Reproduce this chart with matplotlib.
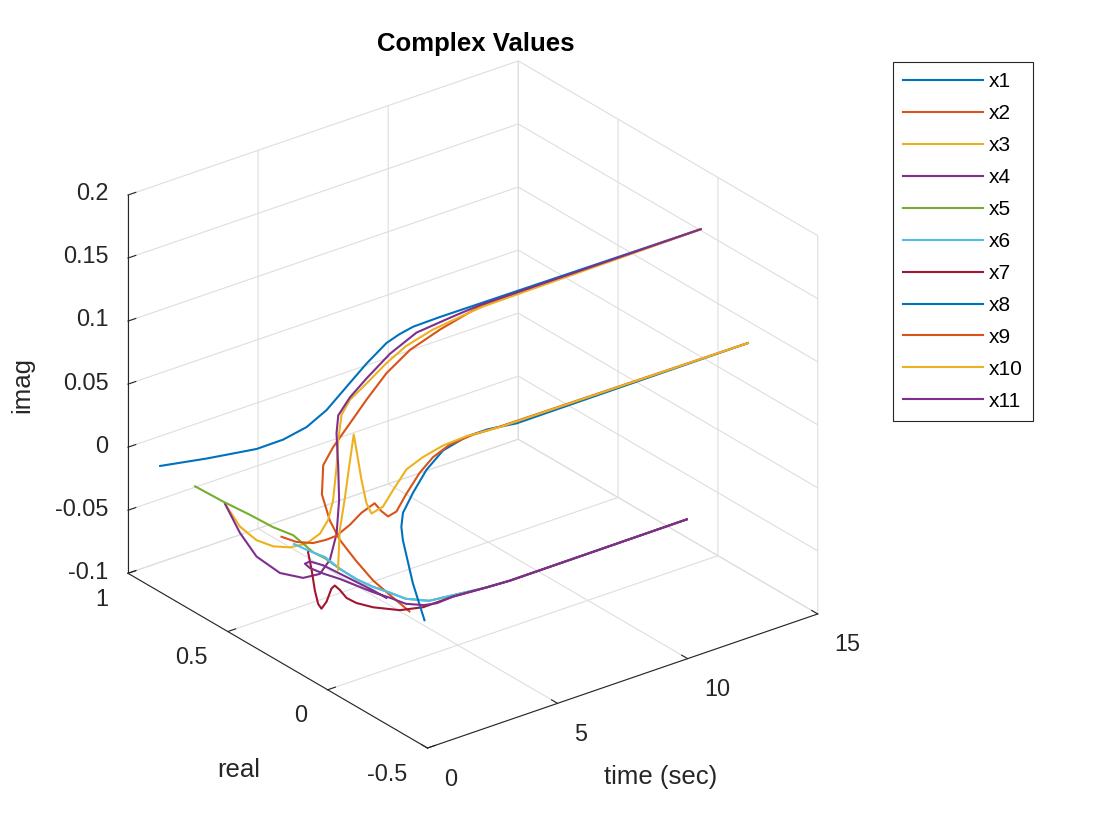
import matplotlib
matplotlib.use("Agg")
import matplotlib.pyplot as plt

plt.rcParams['font.family'] = ['Liberation Sans', 'DejaVu Sans']
plt.rcParams['grid.color'] = '#dedede'
plt.rcParams['grid.linewidth'] = 0.8

# time (sec), real part, imag part for every trace
t_x1 = [0, 0.5, 1.0, 1.3, 1.6, 1.9, 2.2, 2.6, 3.1, 3.5, 4.0, 5.0, 15]
re_x1 = [0.839, 0.670, 0.486, 0.392, 0.314, 0.253, 0.192, 0.144, 0.109, 0.098, 0.093, 0.089, 0.086]
im_x1 = [0.000, 0.018, 0.039, 0.053, 0.068, 0.085, 0.107, 0.127, 0.143, 0.148, 0.151, 0.152, 0.151]

t_x2 = [0, 0.15, 0.3, 0.45, 0.6, 0.75, 0.9, 1.05, 1.2, 1.6, 2.2, 3.0, 3.9, 5.0, 6.5, 15]
re_x2 = [-0.410, -0.296, -0.188, -0.082, 0.017, 0.087, 0.146, 0.159, 0.129, 0.097, 0.092, 0.096, 0.096, 0.089, 0.086, 0.086]
im_x2 = [0.000, 0.001, 0.002, 0.007, 0.013, 0.021, 0.035, 0.056, 0.072, 0.091, 0.106, 0.121, 0.133, 0.142, 0.150, 0.151]

t_x3 = [0, 0.15, 0.3, 0.45, 0.6, 0.75, 0.9, 1.05, 1.2, 1.4, 1.55, 1.7, 1.9, 2.4, 3.0, 3.7, 4.7, 5.8, 6.6, 15]
re_x3 = [0.514, 0.459, 0.395, 0.331, 0.267, 0.203, 0.156, 0.134, 0.129, 0.138, 0.149, 0.152, 0.136, 0.118,
         0.096, 0.090, 0.088, 0.087, 0.086, 0.086]
im_x3 = [0.000, -0.014, -0.020, -0.020, -0.016, -0.008, 0.003, 0.015, 0.030, 0.054, 0.073, 0.092, 0.104, 0.115,
         0.129, 0.138, 0.144, 0.147, 0.149, 0.151]

t_x4 = [0, 0.15, 0.3, 0.5, 0.7, 0.85, 1.0, 1.15, 1.3, 1.45, 1.6, 1.75, 2.0, 2.4, 3.1, 4.1, 5.4, 6.5, 15]
re_x4 = [0.514, 0.459, 0.395, 0.304, 0.214, 0.150, 0.119, 0.105, 0.112, 0.136, 0.164, 0.175, 0.149, 0.118,
         0.092, 0.089, 0.087, 0.086, 0.086]
im_x4 = [0.000, -0.019, -0.033, -0.039, -0.036, -0.028, -0.015, 0.006, 0.031, 0.054, 0.077, 0.089, 0.104, 0.119,
         0.136, 0.146, 0.149, 0.151, 0.151]

t_x5 = [0, 0.1, 0.2, 0.3, 0.4, 0.55, 0.75, 1.1, 1.7, 2.3, 2.9, 3.6, 4.2, 5.1, 6.0, 7.3, 8.2, 15]
re_x5 = [0.664, 0.535, 0.415, 0.312, 0.225, 0.194, 0.170, 0.157, 0.156, 0.156, 0.156, 0.156, 0.156, 0.156,
         0.156, 0.156, 0.156, 0.156]
im_x5 = [0.000, -0.001, -0.001, -0.002, -0.001, -0.006, -0.012, -0.018, -0.031, -0.043, -0.053, -0.063, -0.072,
         -0.080, -0.082, -0.085, -0.086, -0.0856]

t_x6 = [0, 0.5, 1.1, 1.7, 2.3, 2.9, 3.6, 4.2, 5.1, 6.0, 7.3, 8.2, 15]
re_x6 = [0.169, 0.160, 0.157, 0.156, 0.156, 0.156, 0.156, 0.156, 0.156, 0.156, 0.156, 0.156, 0.156]
im_x6 = [0.000, -0.008, -0.017, -0.031, -0.043, -0.053, -0.063, -0.072, -0.080, -0.082, -0.085, -0.086, -0.0856]

t_x7 = [0, 0.15, 0.3, 0.45, 0.6, 0.8, 1.0, 1.15, 1.35, 1.65, 2.1, 2.85, 3.9, 4.85, 6.0, 7.3, 8.2, 15]
re_x7 = [0.098, 0.100, 0.103, 0.106, 0.109, 0.110, 0.111, 0.114, 0.115, 0.120, 0.129, 0.143, 0.146, 0.153,
         0.155, 0.156, 0.156, 0.156]
im_x7 = [0.000, -0.015, -0.033, -0.045, -0.050, -0.046, -0.037, -0.036, -0.041, -0.050, -0.058, -0.068, -0.078,
         -0.083, -0.083, -0.085, -0.086, -0.0856]

t_x8 = [0, 0.2, 0.45, 0.6, 0.9, 1.5, 2.2, 3.2, 4.2, 5.0, 6.1, 15]
re_x8 = [-0.485, -0.401, -0.318, -0.291, -0.260, -0.232, -0.208, -0.161, -0.150, -0.150, -0.151, -0.150]
im_x8 = [0.000, 0.020, 0.045, 0.052, 0.058, 0.067, 0.078, 0.082, 0.085, 0.085, 0.082, 0.0825]

t_x9 = [0, 0.2, 0.4, 0.6, 0.75, 1.0, 1.25, 1.5, 1.65, 1.8, 2.0, 2.3, 2.7, 3.1, 3.6, 4.4, 5.3, 15]
re_x9 = [0.231, 0.182, 0.125, 0.084, 0.053, 0.019, -0.006, -0.040, -0.054, -0.068, -0.084, -0.095, -0.109,
         -0.124, -0.142, -0.152, -0.151, -0.150]
im_x9 = [0.000, -0.001, 0.002, 0.007, 0.012, 0.022, 0.032, 0.041, 0.035, 0.031, 0.035, 0.048, 0.063, 0.074,
         0.082, 0.085, 0.084, 0.0825]

t_x10 = [0, 0.15, 0.3, 0.45, 0.55, 0.65, 0.8, 0.95, 1.1, 1.35, 1.6, 2.0, 2.6, 3.3, 4.2, 5.5, 15]
re_x10 = [-0.052, -0.041, -0.046, -0.052, -0.059, -0.062, -0.065, -0.070, -0.076, -0.101, -0.119, -0.134,
          -0.139, -0.148, -0.148, -0.147, -0.150]
im_x10 = [0.000, 0.029, 0.053, 0.082, 0.104, 0.089, 0.067, 0.048, 0.039, 0.045, 0.058, 0.073, 0.079, 0.084,
          0.085, 0.083, 0.0825]

t_x11 = [0, 0.1, 0.2, 0.3, 0.4, 0.5, 0.6, 0.75, 1.0, 1.65, 2.3, 2.95, 3.6, 4.2, 4.9, 5.4, 6.0, 7.3, 8.2, 15]
re_x11 = [-0.294, -0.214, -0.118, -0.021, 0.075, 0.154, 0.192, 0.187, 0.153, 0.154, 0.155, 0.156, 0.156, 0.156,
          0.156, 0.156, 0.155, 0.156, 0.156, 0.156]
im_x11 = [0.000, -0.002, -0.005, -0.008, -0.011, -0.016, -0.022, -0.026, -0.029, -0.038, -0.048, -0.058, -0.067,
          -0.076, -0.082, -0.084, -0.083, -0.085, -0.086, -0.0856]

names = ['x1', 'x2', 'x3', 'x4', 'x5', 'x6', 'x7', 'x8', 'x9', 'x10', 'x11']
times = [t_x1, t_x2, t_x3, t_x4, t_x5, t_x6, t_x7, t_x8, t_x9, t_x10, t_x11]
reals = [re_x1, re_x2, re_x3, re_x4, re_x5, re_x6, re_x7, re_x8, re_x9, re_x10, re_x11]
imags = [im_x1, im_x2, im_x3, im_x4, im_x5, im_x6, im_x7, im_x8, im_x9, im_x10, im_x11]

# matlab default line colours
colors = ['#0072BD', '#D95319', '#EDB120', '#7E2F8E', '#77AC30', '#4DBEEE', '#A2142F']

fig = plt.figure(figsize=(11.2, 8.4), dpi=100)
ax = fig.add_axes([0.0554, 0.0294, 0.7143, 0.9524], projection='3d')
ax.set_proj_type('ortho')
ax.view_init(elev=26.6, azim=-127.5)
ax.set_box_aspect((1, 1, 0.86), zoom=0.988)
ax.computed_zorder = False

for i in range(len(names)):
    ax.plot(times[i], reals[i], imags[i], color=colors[i % 7], lw=1.5, label=names[i])

ax.set_xlim(0, 15)
ax.set_ylim(-0.5, 1)
ax.set_zlim(-0.1, 0.2)
ax.set_xticks([0, 5, 10, 15])
ax.set_xticklabels(['0', '5', '10', '15'])
ax.set_yticks([-0.5, 0, 0.5, 1])
ax.set_yticklabels(['-0.5', '0', '0.5', '1'])
ax.set_zticks([-0.1, -0.05, 0, 0.05, 0.1, 0.15, 0.2])
ax.set_zticklabels(['-0.1', '-0.05', '0', '0.05', '0.1', '0.15', '0.2'])

for axis in (ax.xaxis, ax.yaxis, ax.zaxis):
    axis.set_pane_color((1, 1, 1, 0))
    axis.pane.set_edgecolor('#d4d4d4')
    axis.line.set_color('#262626')
    axis.line.set_linewidth(0.8)
    axis._axinfo['tick']['inward_factor'] = 0.0
    axis._axinfo['tick']['outward_factor'] = 0.25
    axis._axinfo['grid']['color'] = '#dedede'
    axis._axinfo['grid']['linewidth'] = 0.8
ax.tick_params(labelsize=16.8, colors='#262626')
ax.tick_params(axis='x', pad=8.8)
ax.tick_params(axis='y', pad=7.3)
ax.tick_params(axis='z', pad=0.5)

# matlab puts the labels beside the ticks, not centred under them
for lab in ax.get_xticklabels():
    lab.set_ha('left')
    lab.set_va('center')
for lab in ax.get_yticklabels():
    lab.set_ha('right')
    lab.set_va('center')
for lab in ax.get_zticklabels():
    lab.set_ha('right')
    lab.set_va('center')

fig.text(661 / 1120, 1 - 777 / 840, 'time (sec)', ha='center', va='center', fontsize=18.5, color='#262626')
fig.text(239 / 1120, 1 - 770 / 840, 'real', ha='center', va='center', fontsize=18.5, color='#262626')
fig.text(22 / 1120, 1 - 385 / 840, 'imag', ha='center', va='center', rotation=90, fontsize=18.5, color='#262626')
fig.text(476 / 1120, 1 - 44 / 840, 'Complex Values', ha='center', va='center', fontsize=18.5,
         fontweight='bold', color='black')

leg = fig.legend(loc='upper left', bbox_to_anchor=(893 / 1120, 1 - 62 / 840), fontsize=15,
                 fancybox=False, framealpha=1, edgecolor='#262626', handlelength=3.8,
                 handletextpad=0.3, labelspacing=0.62, borderpad=0.5, borderaxespad=0)
leg.get_frame().set_linewidth(0.8)

fig.savefig('out.png', dpi=100)
